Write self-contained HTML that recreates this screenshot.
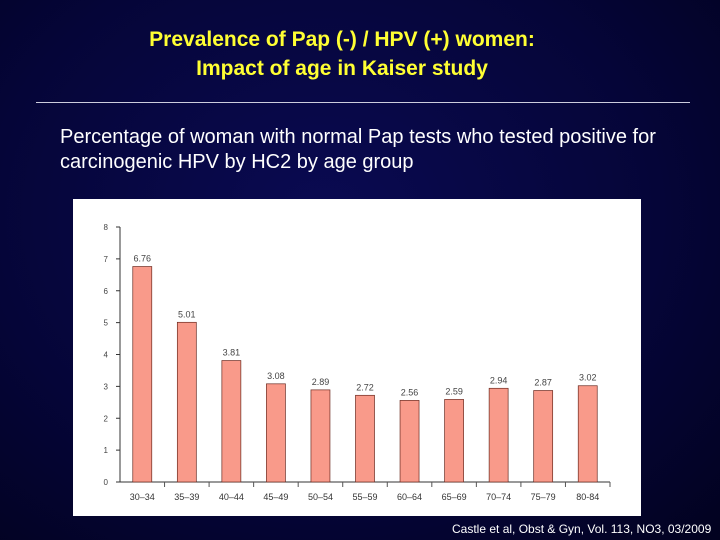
<!DOCTYPE html>
<html><head><meta charset="utf-8"><style>
body{margin:0;width:720px;height:540px;overflow:hidden;background:radial-gradient(ellipse at 45% 40%,#0a0a52 0%,#050538 60%,#02021f 100%);font-family:"Liberation Sans",sans-serif;position:relative}
.t{position:absolute;left:0;width:684px;text-align:center;color:#ffff33;font-weight:bold;font-size:21px;line-height:29px;top:25px}
.hr{position:absolute;left:36px;top:102px;width:654px;height:1px;background:#ccccdd}
.sub{position:absolute;left:60px;top:125px;color:#fff;font-size:20px;line-height:25px}
.cit{position:absolute;left:452px;top:522px;color:#fff;font-size:12px}
svg{position:absolute;left:0;top:0}
</style></head><body>
<div class="t">Prevalence of Pap (-) / HPV (+) women:<br>Impact of age in Kaiser study</div>
<div class="hr"></div>
<div class="sub">Percentage of woman with normal Pap tests who tested positive for<br>carcinogenic HPV by HC2 by age group</div>
<svg id="c" width="720" height="540"></svg>
<div class="cit">Castle et al, Obst &amp; Gyn, Vol. 113, NO3, 03/2009</div>
<script>
const categories=["30–34","35–39","40–44","45–49","50–54","55–59","60–64","65–69","70–74","75–79","80-84"];
const values=[6.76,5.01,3.81,3.08,2.89,2.72,2.56,2.59,2.94,2.87,3.02];
const valueLabels=["6.76","5.01","3.81","3.08","2.89","2.72","2.56","2.59","2.94","2.87","3.02"];
const yTicks=[0,1,2,3,4,5,6,7,8];
const svg=document.getElementById('c');const NS='http://www.w3.org/2000/svg';
function mk(t,a,txt){const e=document.createElementNS(NS,t);for(const k in a)e.setAttribute(k,a[k]);if(txt!=null)e.textContent=txt;svg.appendChild(e);return e;}
const x0=120,x1=610,y0=482,yTop=227,ymax=8;
const y=v=>y0-(v/ymax)*(y0-yTop);
const bw=(x1-x0)/categories.length;
const xc=i=>x0+bw*(i+0.5);
let p=mk('rect',{x:73,y:199,width:568,height:317,fill:'#fff'});


let a=mk('line',{x1:x0,y1:yTop,x2:x0,y2:y0,stroke:'#333','stroke-width':1});


a=mk('line',{x1:x0-4,y1:y0,x2:x1,y2:y0,stroke:'#333','stroke-width':1});


yTicks.forEach(t=>{
 let l=mk('line',{x1:x0-4,y1:y(t),x2:x0,y2:y(t),stroke:'#333'});
 
 
 let tx=mk('text',{x:x0-12,y:y(t)+3,'font-size':8,fill:'#444','text-anchor':'end'},String(t));
 
 
});
categories.forEach((c,i)=>{
 let l=mk('line',{x1:x0+bw*(i+1),y1:y0,x2:x0+bw*(i+1),y2:y0+5,stroke:'#555'});
 
 
 let r=mk('rect',{x:xc(i)-9.5,y:y(values[i]),width:19,height:y0-y(values[i]),fill:'#f99a8a',stroke:'#6b2a20','stroke-width':0.7});
 
 
 let v=mk('text',{x:xc(i),y:y(values[i])-5,'font-size':9,fill:'#444','text-anchor':'middle'},valueLabels[i]);
 
 
 let t=mk('text',{x:xc(i),y:y0+18,'font-size':9,fill:'#333','text-anchor':'middle'},c);
 
 
});
</script>
</body></html>
